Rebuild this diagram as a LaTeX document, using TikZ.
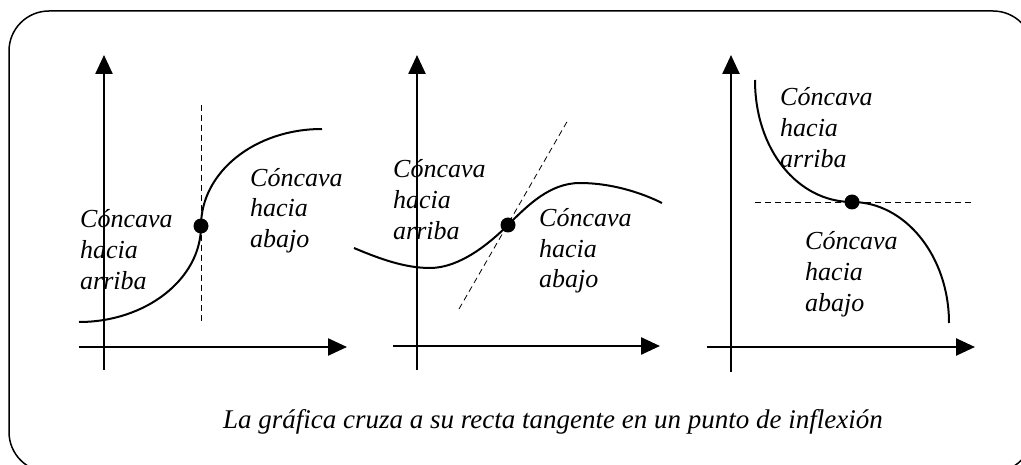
\documentclass[tikz,border=0pt]{standalone}
\usepackage{fontspec}
\setmainfont{Liberation Serif}
\usetikzlibrary{arrows.meta}
\begin{document}
\begin{tikzpicture}[x=1pt,y=-1pt,
  axis/.style={line width=2.5pt,-{Triangle[length=19pt,width=17pt]}},
  curve/.style={line width=2pt},
  tang/.style={line width=0.8pt,dash pattern=on 6pt off 4pt},
  dot/.style={circle,fill=black,inner sep=0pt,minimum size=15pt},
  lbl/.style={font=\itshape\fontsize{26}{31}\selectfont,align=left,anchor=base west,inner sep=0pt},
  captext/.style={font=\itshape\fontsize{27}{32}\selectfont,anchor=base,inner sep=0pt}]
\useasboundingbox (0,0) rectangle (1021,465);
\clip (0,0) rectangle (1021,465);
\draw[line width=1.5pt,rounded corners=40pt] (9,11) rectangle (1033,472);

% Panel 1
\coordinate (y1b) at (104,370); \coordinate (y1t) at (104,55);
\coordinate (x1l) at (79,347);  \coordinate (x1r) at (347,347);
\draw[axis] (y1b) -- (y1t);
\draw[axis] (x1l) -- (x1r);
\coordinate (t1a) at (201,105); \coordinate (t1b) at (201,323);
\draw[tang] (t1a) -- (t1b);
\node[dot] (p1) at (201,226) {};
\coordinate (c1s) at (79,322); \coordinate (c1e) at (322,129);
\draw[curve] (c1s) .. controls (146,322) and (201,279) .. (p1.center)
                   .. controls (201,172) and (255,129) .. (c1e);
\node[lbl] (l1a) at (80,290) {Cóncava\\hacia\\arriba};
\node[lbl] (l1b) at (250,248) {Cóncava\\hacia\\abajo};

% Panel 2
\coordinate (y2b) at (417,370); \coordinate (y2t) at (417,55);
\coordinate (x2l) at (393,346); \coordinate (x2r) at (660,346);
\draw[axis] (y2b) -- (y2t);
\draw[axis] (x2l) -- (x2r);
\coordinate (t2a) at (459,309); \coordinate (t2b) at (568,120);
\draw[tang] (t2a) -- (t2b);
\node[dot] (p2) at (508,225) {};
\coordinate (c2s) at (354,248); \coordinate (c2m) at (430,268);
\coordinate (c2n) at (580,183); \coordinate (c2e) at (662,203);
\draw[curve] (c2s) .. controls (380,259) and (405,268) .. (c2m)
                   .. controls (460,268) and (490,243) .. (p2.center)
                   .. controls (528,205) and (550,183) .. (c2n)
                   .. controls (610,183) and (640,192) .. (c2e);
\node[lbl] (l2a) at (393,240) {Cóncava\\hacia\\arriba};
\node[lbl] (l2b) at (539,288) {Cóncava\\hacia\\abajo};

% Panel 3
\coordinate (y3b) at (731,372); \coordinate (y3t) at (731,55);
\coordinate (x3l) at (707,347); \coordinate (x3r) at (975,347);
\draw[axis] (y3b) -- (y3t);
\draw[axis] (x3l) -- (x3r);
\coordinate (t3a) at (755,202); \coordinate (t3b) at (973,202);
\draw[tang] (t3a) -- (t3b);
\node[dot] (p3) at (852,202) {};
\coordinate (c3s) at (755,80); \coordinate (c3e) at (949,323);
\draw[curve] (c3s) .. controls (755,150) and (798,202) .. (p3.center)
                   .. controls (905,202) and (949,256) .. (c3e);
\node[lbl] (l3a) at (780,168) {Cóncava\\hacia\\arriba};
\node[lbl] (l3b) at (805,312) {Cóncava\\hacia\\abajo};

% Caption
\node[captext] (capt) at (553,428) {La gráfica cruza a su recta tangente en un punto de inflexión};
\end{tikzpicture}
\end{document}
